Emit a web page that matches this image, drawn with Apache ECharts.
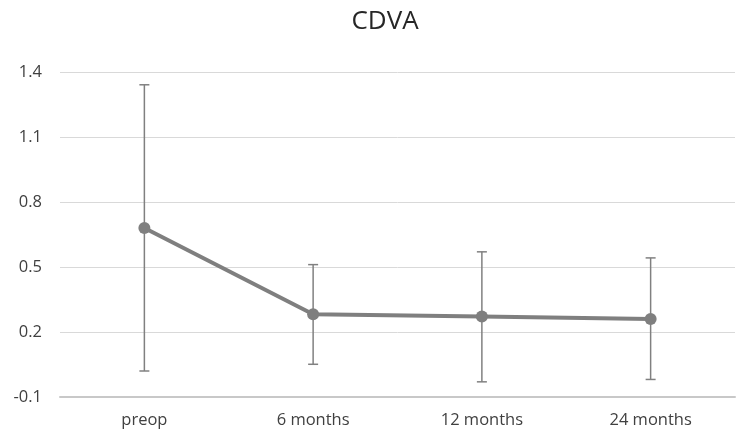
<!DOCTYPE html>
<html><head><meta charset="utf-8">
<script src="https://cdn.jsdelivr.net/npm/echarts@6/dist/echarts.min.js"></script>
<style>html,body{margin:0;padding:0;background:#fff}#c{width:736px;height:432px}</style>
</head><body><div id="c"></div>
<script>
var categories = ['preop', '6 months', '12 months', '24 months'];
var meanValues = [0.68, 0.282, 0.271, 0.26];
var upperValues = [1.341, 0.511, 0.570, 0.542];
var lowerValues = [0.020, 0.051, -0.030, -0.019];
var yTicks = [-0.1, 0.2, 0.5, 0.8, 1.1, 1.4];

var errData = categories.map(function (c, i) { return [i, lowerValues[i], upperValues[i]]; });
var font = '"Open Sans", sans-serif';
var chart = echarts.init(document.getElementById('c'));
chart.setOption({
  animation: false,
  title: { text: 'CDVA', left: 380, textAlign: 'center', top: 4,
    textStyle: { fontFamily: font, fontSize: 26, fontWeight: 'normal', color: '#262626' } },
  grid: { left: 60, right: 1, top: 72, bottom: 35, containLabel: false },
  xAxis: { type: 'category', data: categories, boundaryGap: true,
    axisLine: { show: true, onZero: false, lineStyle: { color: '#c8c8c8', width: 2 } },
    axisTick: { show: false },
    axisLabel: { fontFamily: font, fontSize: 16.5, color: '#404040', margin: 15 } },
  yAxis: { type: 'value', min: yTicks[0], max: yTicks[yTicks.length - 1], interval: 0.3,
    axisLine: { show: false }, axisTick: { show: false },
    splitLine: { lineStyle: { color: '#d9d9d9', width: 1 } },
    axisLabel: { fontFamily: font, fontSize: 16.5, color: '#404040', margin: 18,
      formatter: function (v) { return (Math.round(v * 10) / 10).toFixed(1); } } },
  series: [
    { type: 'custom', data: errData, z: 1,
      renderItem: function (params, api) {
        var x = api.value(0);
        var lo = api.coord([x, api.value(1)]);
        var hi = api.coord([x, api.value(2)]);
        var w = 5;
        var st = { stroke: '#808080', lineWidth: 1.5 };
        return { type: 'group', children: [
          { type: 'line', shape: { x1: lo[0], y1: lo[1], x2: hi[0], y2: hi[1] }, style: st },
          { type: 'line', shape: { x1: lo[0] - w, y1: lo[1], x2: lo[0] + w, y2: lo[1] }, style: st },
          { type: 'line', shape: { x1: hi[0] - w, y1: hi[1], x2: hi[0] + w, y2: hi[1] }, style: st }
        ]};
      } },
    { type: 'line', data: meanValues, z: 2, symbol: 'circle', symbolSize: 12,
      lineStyle: { color: '#7f7f7f', width: 4 }, itemStyle: { color: '#7f7f7f' } }
  ]
});
</script></body></html>
